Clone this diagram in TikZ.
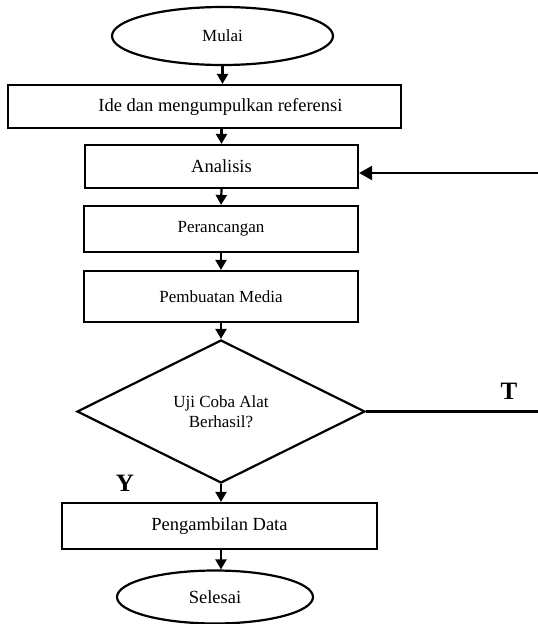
\documentclass[tikz,border=0pt]{standalone}
\usepackage{fontspec}
\setmainfont{Liberation Serif}
\usetikzlibrary{shapes.geometric,arrows.meta}
\tikzset{
  base/.style={draw, line width=2.2pt, inner sep=0pt, align=center},
  stepbox/.style={base, rectangle},
  term/.style={base, ellipse},
  decision/.style={base, diamond},
  txta/.style={font=\fontsize{17}{20}\selectfont},
  txtb/.style={font=\fontsize{18.5}{21}\selectfont},
  lbl/.style={font=\fontsize{25}{28}\selectfont\bfseries, inner sep=0pt},
  conn/.style={line width=2.2pt},
  arr/.style={conn, -{Triangle[length=10pt,width=11pt]}},
  bigarr/.style={conn, -{Triangle[length=13pt,width=14pt]}}
}
\begin{document}
\begin{tikzpicture}[x=1pt,y=-1pt]
\useasboundingbox (0,0) rectangle (538,624);
\node[term, txta, minimum width=221pt, minimum height=58pt] (mulai) at (222.5,36) {Mulai};
\node[stepbox, minimum width=393pt, minimum height=43pt] (ide) at (204.5,106.5) {};
\node[txtb, inner sep=0pt] (idetxt) at (220.5,106.5) {Ide dan mengumpulkan referensi};
\node[stepbox, txtb, minimum width=273pt, minimum height=43pt] (ana) at (221.5,166.5) {Analisis};
\node[stepbox, txta, minimum width=274pt, minimum height=46pt] (per) at (221,229) {Perancangan};
\node[stepbox, txta, minimum width=274pt, minimum height=51pt] (pem) at (221,296.5) {Pembuatan Media};
\node[decision, txta, minimum width=288pt, minimum height=143pt] (dia) at (221,411.5) {Uji Coba Alat\\Berhasil?};
\node[stepbox, txtb, minimum width=315pt, minimum height=46pt] (peng) at (219.5,526) {Pengambilan Data};
\node[term, txtb, minimum width=196pt, minimum height=53pt] (sel) at (215,597) {Selesai};
\node[lbl] (ylab) at (125,483) {Y};
\node[lbl] (tlab) at (509,391) {T};
\coordinate (tend) at (540,411.5);
\coordinate (rin) at (540,173);
\draw[arr] (mulai.south) -- (mulai.south |- ide.north);
\draw[arr] (ana.north |- ide.south) -- (ana.north);
\draw[arr] (ana.south) -- (per.north);
\draw[arr] (per.south) -- (pem.south |- pem.north);
\draw[arr] (pem.south) -- (dia.north);
\draw[arr] (dia.south) -- (dia.south |- peng.north);
\draw[arr] (dia.south |- peng.south) -- (dia.south |- sel.north);
\draw[conn] (dia.east) -- (tend);
\draw[bigarr] (rin) -- (rin -| ana.east);
\end{tikzpicture}
\end{document}
